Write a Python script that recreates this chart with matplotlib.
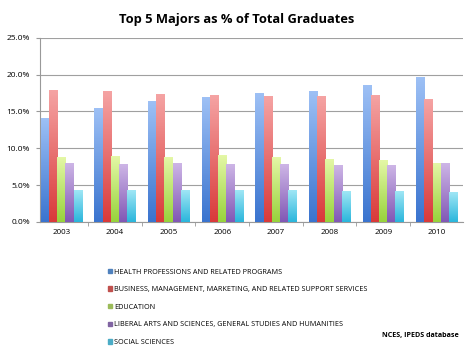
import matplotlib.pyplot as plt
import numpy as np
from matplotlib.colors import LinearSegmentedColormap
from matplotlib.patches import Patch
from matplotlib.ticker import FuncFormatter, MultipleLocator

plt.rcParams['font.family'] = ['Open Sans', 'DejaVu Sans']

years = ['2003', '2004', '2005', '2006', '2007', '2008', '2009', '2010']
majors = ['HEALTH PROFESSIONS AND RELATED PROGRAMS',
          'BUSINESS, MANAGEMENT, MARKETING, AND RELATED SUPPORT SERVICES',
          'EDUCATION',
          'LIBERAL ARTS AND SCIENCES, GENERAL STUDIES AND HUMANITIES',
          'SOCIAL SCIENCES']
health = [14.1, 15.4, 16.4, 16.9, 17.4, 17.8, 18.5, 19.7]
business = [17.9, 17.7, 17.3, 17.2, 17.1, 17.1, 17.2, 16.7]
education = [8.8, 8.9, 8.8, 9.0, 8.8, 8.5, 8.3, 7.9]
liberal = [7.9, 7.8, 7.9, 7.8, 7.8, 7.7, 7.7, 7.9]
social = [4.3, 4.3, 4.3, 4.3, 4.3, 4.2, 4.1, 4.0]
series = [health, business, education, liberal, social]

# light (top) -> dark (bottom) for the excel style gradient
colors = [('#9dc0f5', '#3a74cf'),
          ('#f5a3a3', '#d93a3a'),
          ('#e4f7a6', '#98d33c'),
          ('#cdb5e6', '#8158b5'),
          ('#9fe6f5', '#2bb6dc')]
legend_colors = ['#4f81bd', '#c0504d', '#9bbb59', '#8064a2', '#4bacc6']

fig = plt.figure(figsize=(4.74, 3.51), dpi=100)
ax = fig.add_axes([0.084, 0.368, 0.893, 0.524])

x = np.arange(len(years))
w = 0.153
for i, vals in enumerate(series):
    bars = ax.bar(x + (i - 2) * w, vals, w, color=colors[i][1], zorder=2)
    cmap = LinearSegmentedColormap.from_list('g%d' % i, [colors[i][1], colors[i][0]])
    grad = np.linspace(0, 1, 64).reshape(-1, 1)
    for b in bars:
        ax.imshow(grad, extent=[b.get_x(), b.get_x() + b.get_width(), 0, b.get_height()],
                  origin='lower', aspect='auto', cmap=cmap, zorder=3)

ax.set_xlim(-0.40, 7.49)
ax.set_ylim(0, 25)
ax.yaxis.set_major_locator(MultipleLocator(5))
ax.yaxis.set_major_formatter(FuncFormatter(lambda v, p: '%.1f%%' % v))
ax.set_xticks(x)
ax.set_xticklabels(years)
ax.set_xticks(np.arange(0.5, len(years) - 1), minor=True)
ax.tick_params(axis='x', which='major', length=0, labelsize=5.8, pad=5)
ax.tick_params(axis='x', which='minor', length=3, color='#999999')
ax.tick_params(axis='y', labelsize=6, length=3, color='#999999', pad=4)
ax.grid(axis='y', color='#a0a0a0', linewidth=0.8, zorder=0)
for s in ['top', 'right']:
    ax.spines[s].set_visible(False)
ax.spines['left'].set_color('#999999')
ax.spines['bottom'].set_color('#999999')

fig.text(0.5, 0.945, 'Top 5 Majors as % of Total Graduates', ha='center', va='center',
         fontsize=9.3, fontweight='bold')

handles = [Patch(color=c) for c in legend_colors]
fig.legend(handles, majors, loc='upper left', bbox_to_anchor=(0.222, 0.243),
           frameon=False, fontsize=5.25, handlelength=0.55, handleheight=0.55,
           handletextpad=0.3, labelspacing=1.45, borderaxespad=0)

fig.text(0.968, 0.043, 'NCES, IPEDS database', ha='right', va='center',
         fontsize=5.1, fontweight='bold')

plt.savefig('out.png', dpi=100)
